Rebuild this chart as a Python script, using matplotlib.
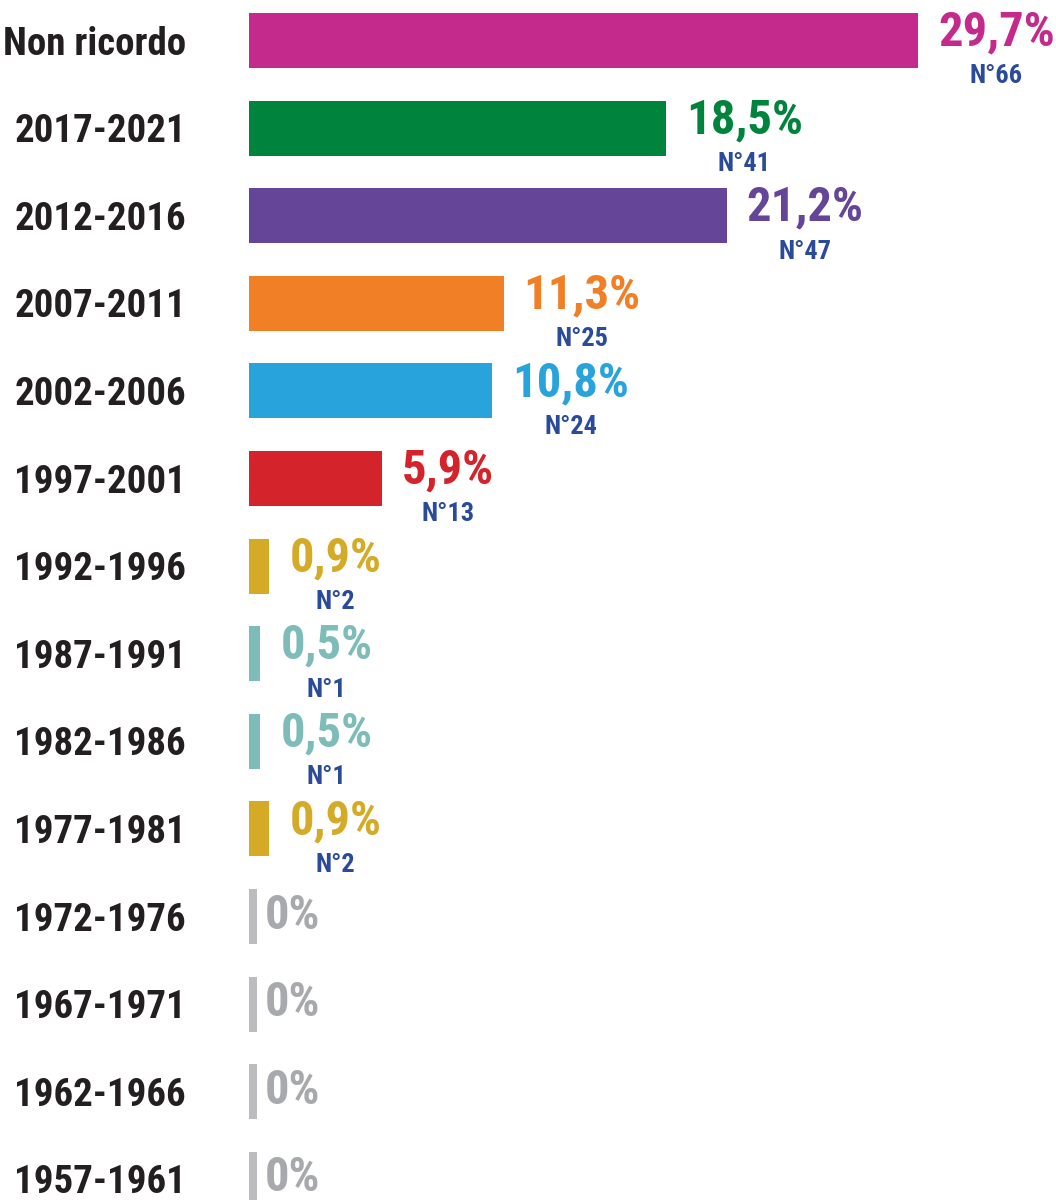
import matplotlib
matplotlib.use('Agg')
import matplotlib.pyplot as plt

# data, top to bottom
categories = ['Non ricordo', '2017-2021', '2012-2016', '2007-2011', '2002-2006',
              '1997-2001', '1992-1996', '1987-1991', '1982-1986', '1977-1981',
              '1972-1976', '1967-1971', '1962-1966', '1957-1961']
percent = [29.7, 18.5, 21.2, 11.3, 10.8, 5.9, 0.9, 0.5, 0.5, 0.9, 0, 0, 0, 0]
counts = [66, 41, 47, 25, 24, 13, 2, 1, 1, 2, 0, 0, 0, 0]
bar_colors = ['#c4298c', '#00833c', '#654597', '#f07f26', '#29a3db', '#d4232a',
              '#d4aa27', '#7dbcb8', '#7dbcb8', '#d4aa27',
              '#bcbcc0', '#bcbcc0', '#bcbcc0', '#bcbcc0']
label_colors = bar_colors[:10] + ['#a7a9ac'] * 4

FONT = ['Roboto Condensed', 'Archivo Narrow', 'Fira Sans Condensed', 'DejaVu Sans']
plt.rcParams['font.family'] = FONT

W, H = 1056, 1200
fig = plt.figure(figsize=(W / 100, H / 100), dpi=100)
left = 249
ax = fig.add_axes([left / W, 0, 1 - left / W, 1])

row = 87.6      # px per row
first = 40.5    # px centre of first row
px_per_pct = 22.53
ax.set_xlim(0, (W - left) / px_per_pct)
ax.set_ylim((H - first) / row, -first / row)
ax.axis('off')

ypos = list(range(len(categories)))
stub = 0.36  # visible stub for zero bars
widths = [v if v > 0 else stub for v in percent]
ax.barh(ypos, widths, height=0.63, color=bar_colors, left=0)

gap = 20 / px_per_pct
for y, v, n, c, lc, w in zip(ypos, percent, counts, bar_colors, label_colors, widths):
    if v == 0:
        ax.text(w + 8 / px_per_pct, y - 0.01, '0%', color=lc, fontsize=35,
                fontweight='bold', ha='left', va='center', family=FONT)
        continue
    txt = f'{v:.1f}'.replace('.', ',') + '%'
    t = ax.text(w + gap, y - 0.09, txt, color=lc, fontsize=35, fontweight='bold',
                ha='left', va='center', family=FONT)
    fig.canvas.draw()
    bb = t.get_window_extent()
    cx = ax.transData.inverted().transform(((bb.x0 + bb.x1) / 2, 0))[0]
    ax.text(cx, y + 0.41, f'N°{n}', color='#2a4a9a', fontsize=19,
            fontweight='bold', ha='center', va='center', family=FONT)

for y, cat in zip(ypos, categories):
    ax.text(-63 / px_per_pct, y + 0.04, cat, color='#231f20', fontsize=28,
            fontweight='bold', ha='right', va='center', family=FONT, clip_on=False)

fig.savefig('out.png', dpi=100)
